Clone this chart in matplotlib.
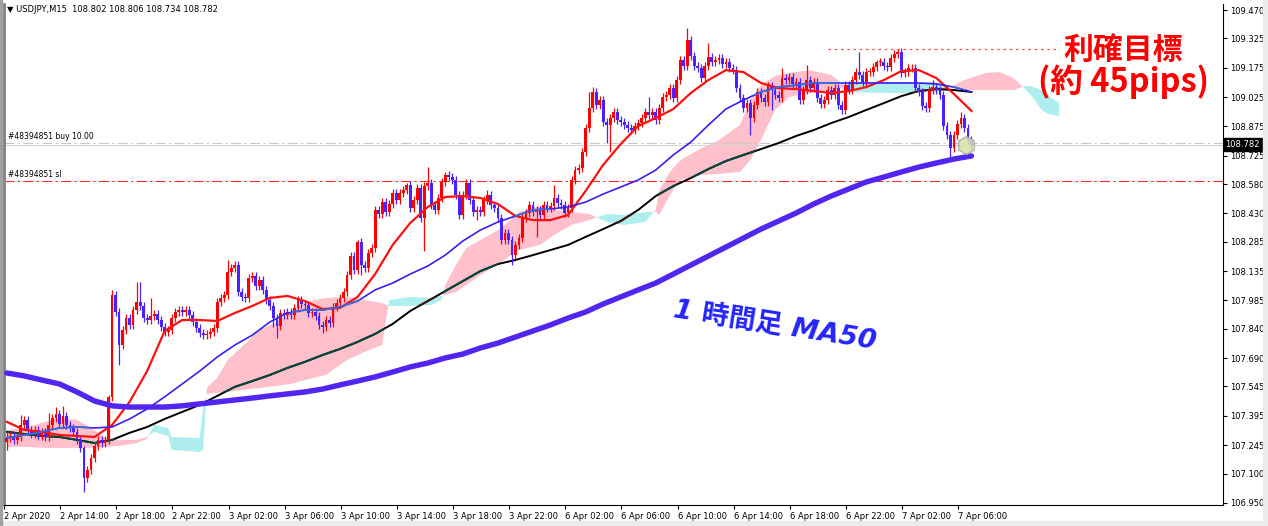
import numpy as np
import matplotlib.pyplot as plt
from matplotlib.path import Path
from matplotlib.patches import Rectangle

# USDJPY M15 bars, 2 Apr 2020 10:00 onwards (prices)
first_open = 107.262
closes = [
    107.282, 107.292, 107.272, 107.287, 107.348, 107.374, 107.323, 107.302, 107.323, 107.292,
    107.313, 107.287, 107.348, 107.384, 107.405, 107.354, 107.394, 107.348, 107.333, 107.313,
    107.272, 107.231, 107.077, 107.118, 107.180, 107.241, 107.272, 107.256, 107.272, 107.492,
    108.013, 107.926, 107.757, 107.834, 107.895, 107.860, 107.936, 107.977, 107.957, 107.895,
    107.885, 107.906, 107.916, 107.885, 107.849, 107.824, 107.834, 107.895, 107.926, 107.936,
    107.926, 107.936, 107.911, 107.875, 107.844, 107.819, 107.808, 107.814, 107.824, 107.844,
    107.977, 107.998, 108.013, 108.131, 108.151, 108.166, 108.028, 108.003, 107.998, 108.100,
    108.110, 108.059, 108.090, 108.039, 107.987, 107.957, 107.895, 107.855, 107.921, 107.911,
    107.926, 107.911, 107.947, 107.987, 107.967, 107.962, 107.921, 107.926, 107.906, 107.860,
    107.849, 107.885, 107.870, 107.952, 107.972, 107.998, 108.028, 108.115, 108.212, 108.141,
    108.284, 108.166, 108.151, 108.228, 108.253, 108.448, 108.427, 108.488, 108.437, 108.478,
    108.534, 108.499, 108.534, 108.550, 108.575, 108.458, 108.499, 108.560, 108.407, 108.570,
    108.586, 108.473, 108.448, 108.509, 108.591, 108.626, 108.616, 108.601, 108.524, 108.422,
    108.524, 108.586, 108.499, 108.437, 108.448, 108.437, 108.499, 108.524, 108.473, 108.458,
    108.407, 108.294, 108.330, 108.294, 108.217, 108.269, 108.304, 108.407, 108.432, 108.473,
    108.437, 108.448, 108.422, 108.473, 108.458, 108.468, 108.509, 108.483, 108.473, 108.432,
    108.458, 108.601, 108.652, 108.662, 108.744, 108.867, 108.969, 109.051, 108.984, 109.010,
    108.897, 108.882, 108.918, 108.948, 108.908, 108.897, 108.882, 108.867, 108.856, 108.877,
    108.892, 108.918, 108.948, 108.933, 108.948, 108.908, 108.969, 109.025, 109.035, 109.071,
    109.020, 109.112, 109.214, 109.184, 109.317, 109.235, 109.184, 109.173, 109.122, 109.184,
    109.230, 109.204, 109.214, 109.225, 109.194, 109.204, 109.173, 109.163, 109.071, 109.020,
    108.969, 108.994, 108.918, 108.984, 109.051, 109.020, 109.000, 109.081, 109.061, 109.035,
    109.020, 109.122, 109.112, 109.127, 109.092, 109.102, 109.010, 109.061, 109.112, 109.071,
    109.102, 109.020, 108.989, 109.010, 109.061, 109.035, 109.071, 108.984, 108.959, 109.086,
    109.061, 109.112, 109.153, 109.138, 109.102, 109.153, 109.153, 109.179, 109.204, 109.204,
    109.184, 109.179, 109.225, 109.245, 109.255, 109.148, 109.153, 109.173, 109.173, 109.071,
    109.051, 108.979, 108.969, 109.061, 109.076, 109.061, 109.035, 108.877, 108.831, 108.764,
    108.831, 108.887, 108.918, 108.867, 108.805, 108.782,
]
# wick lengths in pips
wick_up = [
    3, 2, 2, 2, 5, 2, 2, 2, 2, 2, 2, 2, 6, 2, 3.5, 2, 5, 2, 2, 2,
    2, 2, 1, 2, 2, 2, 2, 2, 2, 1, 2.5, 2, 2, 2, 2, 2, 2, 10, 10, 2,
    2, 9, 2, 2, 2, 2, 2, 2, 2, 2, 2, 2, 2, 2, 2, 2, 2, 2, 2, 2,
    2, 2, 2, 6, 2, 2, 2, 2, 2, 2, 2, 2, 2, 2, 2, 2, 2, 2, 2, 2,
    2, 2, 2, 2, 2, 2, 2, 2, 2, 2, 2, 2, 2, 2, 2, 2, 2, 2, 2, 2,
    1, 2, 2, 2, 2, 2, 2, 2, 2, 2, 2, 2, 2, 2, 1, 2, 2, 2, 2, 2,
    8, 2, 2, 2, 2, 1.5, 2, 2, 2, 2, 2, 2, 2, 2, 2, 2, 2, 2.5, 2, 2,
    2, 2, 2, 2, 2, 2, 2, 2, 2, 2, 2, 2, 2, 2, 2, 2, 6.5, 2, 2, 2,
    2, 2, 2, 2, 2, 2, 8, 2.5, 2, 2, 2, 2, 2, 2, 2, 2, 2, 2, 2, 2,
    2, 2, 2, 7.5, 2, 2, 2, 2, 2, 2, 2, 2, 2, 2, 6, 2, 2, 2, 2, 2,
    7, 2, 2, 2, 2, 2, 2, 2, 2, 2, 2, 2, 2, 2, 2, 2, 2, 2, 2, 2,
    2, 5, 2, 2, 2, 2, 2, 2, 7.5, 2, 2, 2, 2, 2, 2, 2, 2, 2, 2, 2,
    2, 2, 2, 10, 2, 2, 2, 2, 1, 2, 2, 2, 2, 2, 1.5, 2, 2, 2, 2, 2,
    2, 2, 2, 2, 3.5, 2, 2, 2, 2, 2, 2, 2, 3, 2, 2, 2,
]
wick_dn = [
    4, 2, 2, 2, 2, 2, 2, 2, 2, 2, 2, 2, 2, 2, 2, 2, 2, 2, 2, 2,
    2, 2, 7, 2, 2, 2, 2, 2, 2, 2, 2, 2, 10, 2, 2, 2, 2, 2, 2, 2,
    2, 2, 2, 2, 2, 2, 2, 2, 2, 2, 2, 2, 2, 2, 2, 2, 2, 2, 2, 2,
    2, 2, 2, 2, 2, 2, 2, 2, 2, 2, 2, 2, 2, 2, 2, 2, 4.5, 6, 2, 2,
    2, 2, 2, 2, 2, 2, 2, 2, 2, 2, 3, 2, 2, 2, 2, 2, 2, 2, 2, 2,
    2, 5, 2, 2, 2, 2, 2, 2, 2, 2, 2, 2, 2, 2, 2, 2, 2, 2, 2, 17,
    2, 2, 2, 2, 2, 2, 2, 2, 2, 2, 2, 2, 2, 2, 4, 2, 2, 2, 2, 2,
    2, 2, 2, 2, 5, 2, 2, 2, 2, 2, 2, 13, 2, 2, 2, 2, 2, 2, 2, 2,
    2, 2, 2, 2, 2, 2, 2, 2, 2, 2, 2, 9, 14, 2, 2, 2, 2, 2, 2, 2,
    2, 2, 2, 2, 2, 2, 2, 2, 2, 2, 2, 2, 2, 2, 2, 2, 2, 2, 2, 2,
    2, 2, 2, 2, 2, 2, 2, 2, 2, 2, 2, 2, 8.5, 2, 2, 2, 2, 2, 10, 2,
    2, 2, 2, 2, 2, 2, 2, 2, 2, 2, 2, 2, 2, 2, 2, 2, 2, 2, 2, 2,
    2, 2, 2, 2, 2, 2, 2, 2, 2, 2, 2, 2, 2, 2, 2, 2, 2, 2, 2, 2,
    2, 2, 2, 2, 2, 2, 2, 2, 2, 4.5, 2, 2, 2, 2, 2, 2,
]

# moving averages, one value every 5 bars (bar 0 .. 275)
ma_step = 5
ma_red = [107.364, 107.323, 107.313, 107.297, 107.292, 107.287, 107.348, 107.466,
          107.624, 107.829, 107.885, 107.885, 107.880, 107.921, 107.957, 107.998,
          108.008, 107.982, 107.941, 107.947, 108.003, 108.120, 108.269, 108.381,
          108.463, 108.514, 108.519, 108.509, 108.478, 108.417, 108.396, 108.396,
          108.422, 108.545, 108.678, 108.785, 108.877, 108.918, 108.964, 109.046,
          109.112, 109.163, 109.153, 109.097, 109.071, 109.066, 109.056, 109.046,
          109.056, 109.076, 109.112, 109.158, 109.163, 109.122, 109.041, 108.954]
ma_blue = [107.282, 107.297, 107.313, 107.333, 107.338, 107.333, 107.338, 107.379,
           107.430, 107.492, 107.558, 107.624, 107.696, 107.757, 107.808, 107.875,
           107.921, 107.936, 107.936, 107.952, 107.982, 108.039, 108.074, 108.120,
           108.161, 108.217, 108.289, 108.345, 108.386, 108.417, 108.448, 108.453,
           108.463, 108.488, 108.529, 108.565, 108.601, 108.652, 108.729, 108.795,
           108.882, 108.964, 109.010, 109.051, 109.076, 109.086, 109.097, 109.097,
           109.097, 109.097, 109.097, 109.097, 109.097, 109.092, 109.076, 109.051]
ma_black = [107.313, 107.302, 107.292, 107.287, 107.272, 107.256, 107.272, 107.308,
            107.338, 107.379, 107.415, 107.451, 107.497, 107.543, 107.573, 107.604,
            107.640, 107.671, 107.706, 107.737, 107.773, 107.814, 107.865, 107.931,
            107.982, 108.033, 108.084, 108.135, 108.171, 108.192, 108.217, 108.243,
            108.269, 108.310, 108.350, 108.391, 108.448, 108.519, 108.570, 108.611,
            108.657, 108.698, 108.729, 108.759, 108.790, 108.826, 108.856, 108.892,
            108.923, 108.959, 108.994, 109.030, 109.056, 109.066, 109.061, 109.051]
ma_h1 = [107.614, 107.599, 107.578, 107.558, 107.517, 107.471, 107.446, 107.440,
         107.440, 107.440, 107.446, 107.456, 107.466, 107.476, 107.486, 107.497,
         107.507, 107.517, 107.532, 107.553, 107.573, 107.594, 107.619, 107.645,
         107.665, 107.691, 107.711, 107.742, 107.767, 107.798, 107.829, 107.860,
         107.895, 107.926, 107.967, 108.003, 108.039, 108.074, 108.120, 108.166,
         108.212, 108.258, 108.304, 108.350, 108.391, 108.432, 108.478, 108.519,
         108.555, 108.591, 108.616, 108.642, 108.667, 108.688, 108.708, 108.724]

# ichimoku senkou spans
cloud_idx = [0, 5, 11, 15, 20, 24, 28, 32, 37, 40, 42, 46, 47, 55, 56, 57, 60, 63, 67, 72,
             77, 81, 85, 91, 97, 102, 107, 109, 115, 121, 124, 125, 128, 131, 135, 141, 146, 152, 156, 161,
             166, 171, 176, 182, 185, 186, 189, 192, 198, 203, 209, 212, 215, 219, 223, 229, 235, 238, 240, 249,
             258, 266, 270, 273, 279, 283, 287, 290, 292, 295, 297, 300]
span_a = [107.323, 107.333, 107.364, 107.384, 107.374, 107.333, 107.282, 107.272, 107.272, 107.287,
          107.313, 107.292, 107.221, 107.210, 107.221, 107.538, 107.589, 107.681, 107.747, 107.834,
          107.875, 107.926, 107.977, 107.998, 108.003, 107.987, 107.972, 107.957, 107.957, 107.962,
          107.987, 108.064, 108.166, 108.253, 108.294, 108.355, 108.437, 108.468, 108.448, 108.437,
          108.427, 108.386, 108.371, 108.386, 108.448, 108.550, 108.642, 108.703, 108.764, 108.805,
          108.882, 109.010, 109.086, 109.133, 109.148, 109.163, 109.138, 109.097, 109.051, 109.046,
          109.046, 109.051, 109.086, 109.112, 109.148, 109.153, 109.122, 109.071, 109.035, 108.959,
          108.938, 108.928]
span_b = [107.236, 107.236, 107.231, 107.231, 107.231, 107.231, 107.236, 107.241, 107.256, 107.277,
          107.348, 107.333, 107.287, 107.282, 107.440, 107.507, 107.512, 107.517, 107.527, 107.538,
          107.548, 107.558, 107.578, 107.604, 107.681, 107.722, 107.757, 107.987, 108.003, 107.998,
          108.008, 108.013, 108.028, 108.064, 108.115, 108.182, 108.243, 108.269, 108.320, 108.371,
          108.396, 108.427, 108.422, 108.437, 108.437, 108.422, 108.524, 108.601, 108.626, 108.632,
          108.642, 108.703, 108.805, 108.959, 109.025, 109.046, 109.061, 109.071, 109.102, 109.102,
          109.102, 109.102, 109.071, 109.061, 109.061, 109.061, 109.061, 109.081, 109.081, 109.061,
          109.030, 108.994]

ytick_vals = [109.470, 109.325, 109.175, 109.025, 108.875, 108.725, 108.580, 108.430, 108.285,
              108.135, 107.985, 107.840, 107.690, 107.545, 107.395, 107.245, 107.100, 106.950]
xtick_labels = ['2 Apr 2020', '2 Apr 14:00', '2 Apr 18:00', '2 Apr 22:00', '3 Apr 02:00', '3 Apr 06:00',
                '3 Apr 10:00', '3 Apr 14:00', '3 Apr 18:00', '3 Apr 22:00', '6 Apr 02:00', '6 Apr 06:00',
                '6 Apr 10:00', '6 Apr 14:00', '6 Apr 18:00', '6 Apr 22:00', '7 Apr 02:00', '7 Apr 06:00']

header = '\u25bc USDJPY,M15  108.802 108.806 108.734 108.782'
bid = 108.782
buy_price = 108.790
sl_price = 108.596
target_price = 109.270
order_no = '#48394851'

BULL = '#ff0000'
BEAR = '#4a22ff'
JP = ['Noto Sans CJK JP', 'DejaVu Sans']

fig = plt.figure(figsize=(12.68, 5.26), dpi=100)
ax = fig.add_axes([4 / 1268, 21 / 526, 1219 / 1268, 501 / 526])
ax.set_xlim(-0.57, 346.7)
ax.set_ylim(106.939, 109.501)

# cloud
ci = np.array(cloud_idx, dtype=float)
sa = np.array(span_a)
sb = np.array(span_b)
pink = ax.fill_between(ci, sa, sb, where=sa >= sb, interpolate=True, color='#ffc0cb', lw=0, zorder=1)
cyan = ax.fill_between(ci, sa, sb, where=sa < sb, interpolate=True, color='#afeeee', lw=0, zorder=1)
pink_clip = Path.make_compound_path(*pink.get_paths())
cyan_clip = Path.make_compound_path(*cyan.get_paths())

ma_x = np.arange(len(ma_red)) * ma_step

# long MA (black), drawn inverted where it crosses the cloud like MT4 does
ax.plot(ma_x, ma_black, color='black', lw=1.4, zorder=2)
for clip, col in ((pink_clip, '#00493e'), (cyan_clip, '#501111')):
    ln, = ax.plot(ma_x, ma_black, color=col, lw=1.4, zorder=2.1)
    ln.set_clip_path(clip, ax.transData)

# order lines
ax.axhline(bid, color='#d4d4d4', lw=0.8, zorder=1.5)
ax.axhline(buy_price, color='#c8c8c8', lw=0.8, ls=(0, (9, 3, 2, 3)), zorder=1.5)
ax.axhline(sl_price, color='#ff2a2a', lw=0.8, ls=(0, (9, 3, 2, 3)), zorder=1.5)
ax.hlines(target_price, 234, 300, color='#ff4a4a', lw=0.9, ls=(0, (2, 3)), zorder=1.5)

# candles
c = np.array(closes)
o = np.concatenate([[first_open], c[:-1]])
hi = np.maximum(o, c) + np.array(wick_up) * 0.01
lo = np.minimum(o, c) - np.array(wick_dn) * 0.01
idx = np.arange(len(c))
cols = np.where(c >= o, BULL, BEAR)
ax.vlines(idx, lo, hi, colors=cols, lw=0.9, zorder=3)
ax.bar(idx, np.maximum(np.abs(c - o), 0.003), bottom=np.minimum(o, c), width=0.8,
       color=cols, lw=0, zorder=3)

# moving averages
ax.plot(ma_x, ma_red, color='#ff1010', lw=1.6, zorder=4)
ax.plot(ma_x, ma_blue, color='#3a1ff0', lw=1.2, zorder=4)
lb, = ax.plot(ma_x, ma_blue, color='#3a6fd8', lw=1.2, zorder=4.1)
lb.set_clip_path(pink_clip, ax.transData)
ax.plot(ma_x, ma_h1, color='#5226f0', lw=3.9, zorder=5, solid_capstyle='round')

# current price marker
ax.plot(idx[-1] - 1.5, bid, marker='h', ms=13, mfc='#d9e0a8', mec='#a8a8a8', mew=1, alpha=0.85, zorder=6)

# axes styling
ax.yaxis.tick_right()
ax.set_yticks(ytick_vals)
ax.set_yticklabels([f'{v:.3f}' for v in ytick_vals])
ax.set_xticks(np.arange(len(xtick_labels)) * 16 - 0.8)
ax.set_xticklabels(xtick_labels, ha='left')
ax.tick_params(axis='both', length=3, width=0.8, labelsize=6, pad=2, colors='black')
ax.spines['top'].set_visible(False)
ax.spines['left'].set_color('#808080')
ax.spines['left'].set_linewidth(2)
for s in ('right', 'bottom'):
    ax.spines[s].set_linewidth(0.8)

ax.text(1.002, bid, f'{bid:.3f}', transform=ax.get_yaxis_transform(), fontsize=6, color='white',
        va='center', ha='left', bbox=dict(fc='black', ec='black', pad=1.2), zorder=10)

# labels
fig.text(7 / 1268, 1 - 10 / 526, header, fontsize=6, va='center', ha='left')
ax.text(0.003, buy_price + 0.012, order_no + ' buy 10.00', transform=ax.get_yaxis_transform(),
        fontsize=5.5, va='bottom', ha='left')
ax.text(0.003, sl_price + 0.012, order_no + ' sl', transform=ax.get_yaxis_transform(),
        fontsize=5.5, va='bottom', ha='left')

fig.text(1123 / 1268, 1 - 50 / 526, '利確目標', ha='center', va='center', fontsize=21.5,
         color='#ff0000', fontweight='bold', family=JP)
fig.text(1124 / 1268, 1 - 82 / 526, '(約 45pips)', ha='center', va='center', fontsize=23.5,
         color='#ff0000', fontweight='bold', family=JP)
fig.text(775 / 1268, 1 - 327 / 526, '1 時間足 MA50', ha='center', va='center', fontsize=19.5,
         color='#2424ff', fontweight='bold', style='italic',
         family=['DejaVu Sans', 'Noto Sans CJK JP'], rotation=-9)

# window frame
fig.patches.append(Rectangle((0, 0), 1, 5 / 526, transform=fig.transFigure, color='#ececec', zorder=0))
fig.patches.append(Rectangle((1263 / 1268, 0), 5 / 1268, 1, transform=fig.transFigure, color='#ececec', zorder=0))
fig.patches.append(Rectangle((0, 0), 2 / 1268, 1, transform=fig.transFigure, color='#a0a0a0', zorder=0))

fig.savefig('out.png', dpi=100)
